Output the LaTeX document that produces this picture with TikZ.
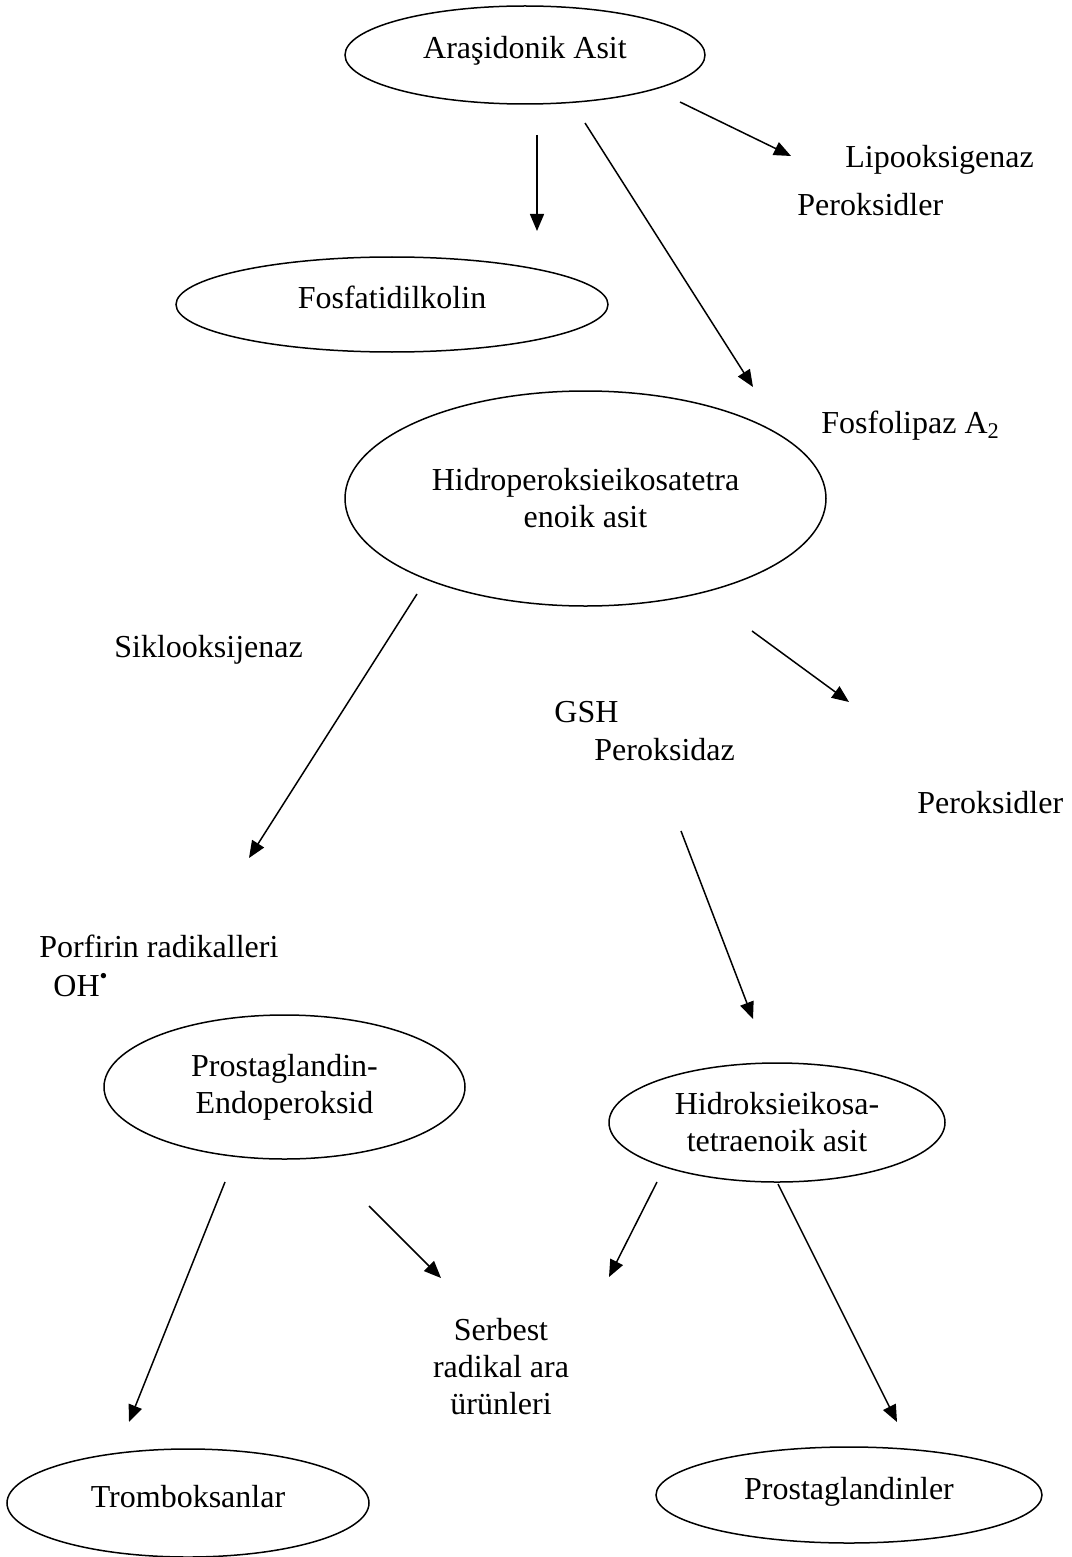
\documentclass[tikz,border=0pt]{standalone}
\usepackage{fontspec}
\setmainfont{Liberation Serif}
\usetikzlibrary{shapes.geometric,arrows.meta}

\tikzset{
  elp/.style={ellipse, draw, line width=0.75pt, inner sep=0pt, align=center},
  one/.style={text height=11pt, text depth=7pt},
  lbl/.style={inner sep=0pt},
  arr/.style={line width=0.75pt, -{Triangle[length=8.5pt,width=7pt]}}
}

\begin{document}
\begin{tikzpicture}[x=0.5pt, y=-0.5pt, font=\fontsize{16}{18.5}\selectfont]
\useasboundingbox (0,0) rectangle (1071,1557);
\node[elp, one, minimum width=180pt, minimum height=49pt] (aa) at (525,55) {Araşidonik Asit};
\node[elp, one, minimum width=216pt, minimum height=47.5pt] (fk) at (392,304.5) {Fosfatidilkolin};
\node[elp, minimum width=240.5pt, minimum height=107.5pt] (hp) at (585.5,498.5) {Hidroperoksieikosatetra\\enoik asit};
\node[elp, minimum width=180.5pt, minimum height=72pt] (pe) at (284.5,1087) {Prostaglandin-\\Endoperoksid};
\node[elp, minimum width=168pt, minimum height=59.5pt] (hk) at (777,1122.5) {Hidroksieikosa-\\tetraenoik asit};
\node[elp, one, minimum width=181pt, minimum height=54pt] (tb) at (188,1503) {Tromboksanlar};
\node[elp, one, minimum width=193pt, minimum height=48pt] (pg) at (849,1495) {Prostaglandinler};
\node[lbl, anchor=base west] (lo) at (845,168) {Lipooksigenaz};
\node[lbl, anchor=base west] (pr1) at (797,216) {Peroksidler};
\node[lbl, anchor=base west] (fl) at (821,433) {Fosfolipaz A\textsubscript{2}};
\node[lbl, anchor=base west] (sk) at (114,657) {Siklooksijenaz};
\node[lbl, anchor=base west] (gsh) at (554,722) {GSH};
\node[lbl, anchor=base west] (pd) at (594,760) {Peroksidaz};
\node[lbl, anchor=base west] (pr2) at (917,813) {Peroksidler};
\node[lbl, anchor=base west] (po) at (39,957) {Porfirin radikalleri};
\node[lbl, anchor=base west] (oh) at (53,996) {OH\textsuperscript{\textbullet}};
\node[lbl, align=center] (sr) at (501,1367) {Serbest\\radikal ara\\ürünleri};
\coordinate (a1) at (537,135); \coordinate (b1) at (537,231);
\coordinate (a2) at (585,123); \coordinate (b2) at (753,387);
\coordinate (a3) at (680,102); \coordinate (b3) at (791,156);
\coordinate (a4) at (417,594); \coordinate (b4) at (249,858);
\coordinate (a5) at (752,631); \coordinate (b5) at (849,702);
\coordinate (a6) at (681,831); \coordinate (b6) at (753,1019);
\coordinate (a7) at (225,1182); \coordinate (b7) at (129,1422);
\coordinate (a8) at (369,1206); \coordinate (b8) at (441,1278);
\coordinate (a9) at (657,1182); \coordinate (b9) at (609,1277);
\coordinate (a10) at (778,1184); \coordinate (b10) at (897,1422);
\draw[arr] (a1) -- (b1);
\draw[arr] (a2) -- (b2);
\draw[arr] (a3) -- (b3);
\draw[arr] (a4) -- (b4);
\draw[arr] (a5) -- (b5);
\draw[arr] (a6) -- (b6);
\draw[arr] (a7) -- (b7);
\draw[arr] (a8) -- (b8);
\draw[arr] (a9) -- (b9);
\draw[arr] (a10) -- (b10);
\end{tikzpicture}
\end{document}
